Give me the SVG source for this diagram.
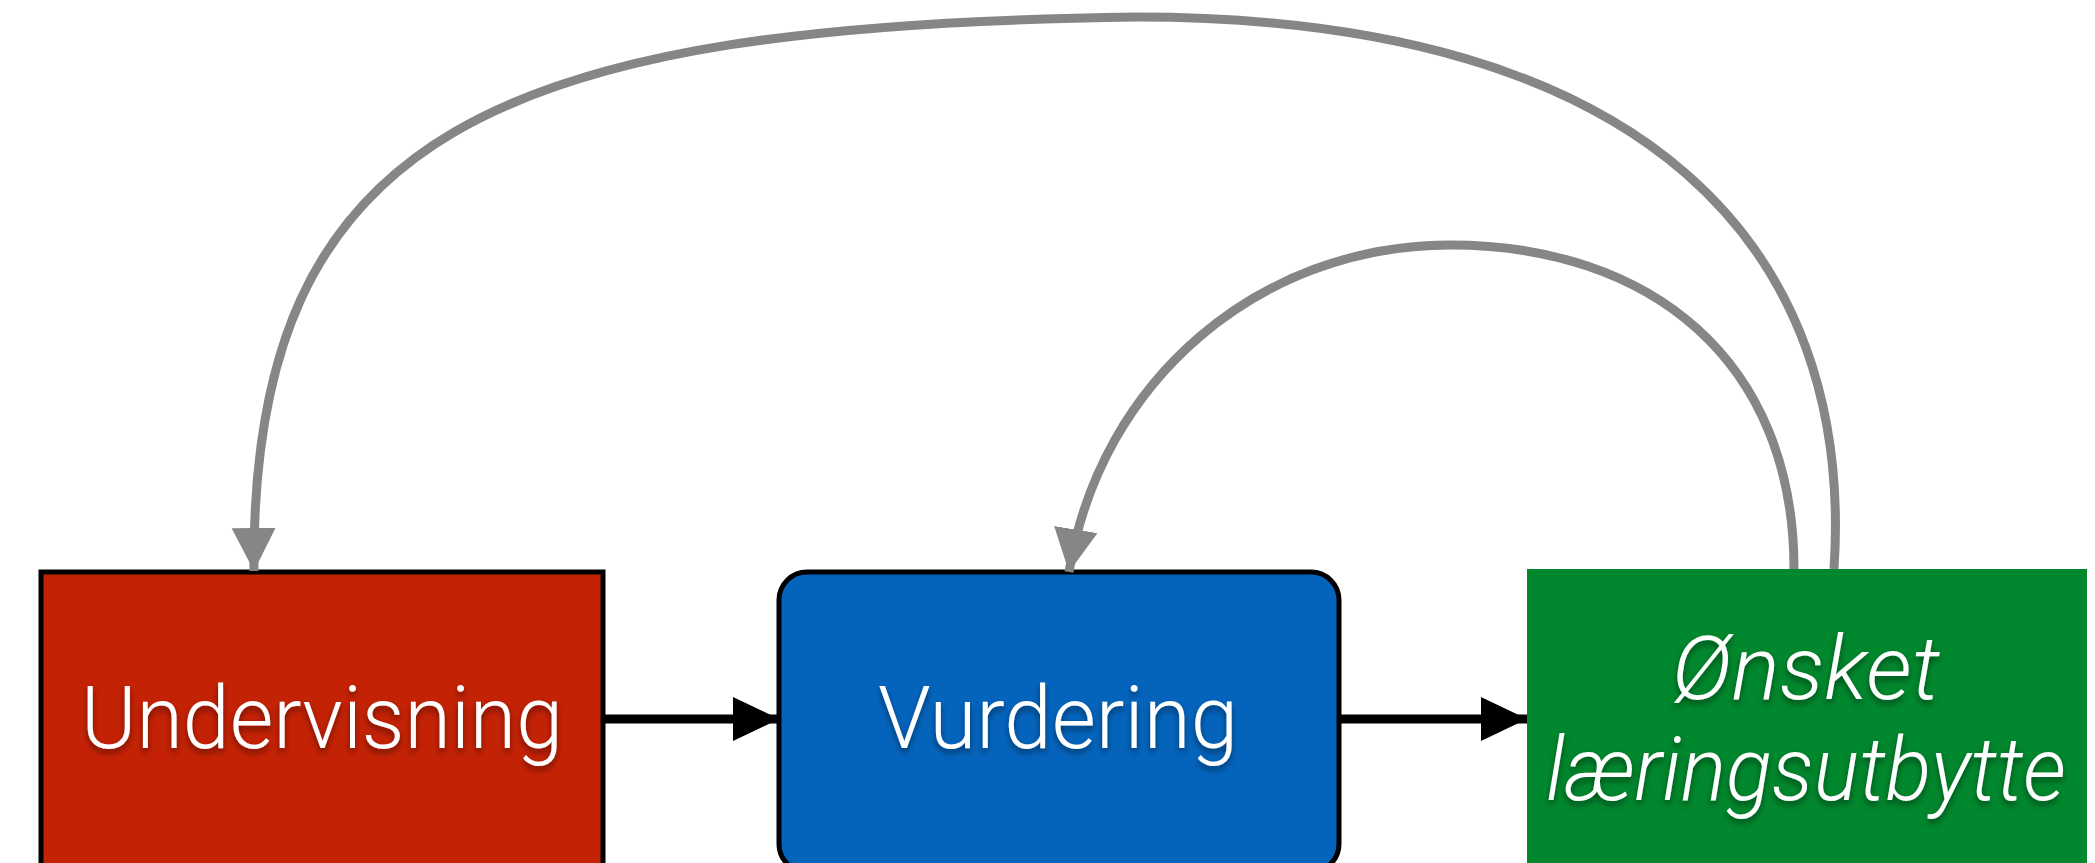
<svg xmlns="http://www.w3.org/2000/svg" width="2095" height="863" viewBox="0 0 2095 863">
<style>
.lbl{font-family:Roboto,"Liberation Sans",sans-serif;font-weight:300;font-size:88px;fill:#fff;text-anchor:middle}
.it{font-style:italic}
.gray{fill:none;stroke:#868686;stroke-width:9}
.blk{fill:none;stroke:#000;stroke-width:9}
</style>
<defs>
<filter id="sh" x="-10%" y="-20%" width="120%" height="150%">
<feDropShadow dx="0" dy="4" stdDeviation="3" flood-color="#000" flood-opacity="0.45"/>
</filter>
<marker id="ag" markerUnits="userSpaceOnUse" markerWidth="46" markerHeight="46" refX="43" refY="22" orient="auto" viewBox="0 0 46 46">
<path d="M0 0 L43 22 L0 44 Z" fill="#868686"/>
</marker>
<marker id="ab" markerUnits="userSpaceOnUse" markerWidth="48" markerHeight="48" refX="46" refY="22" orient="auto" viewBox="0 0 48 48">
<path d="M0 0 L46 22 L0 44 Z" fill="#000"/>
</marker>
</defs>
<g id="node-undervisning">
<rect x="41" y="572" width="562" height="300" fill="#c42205" stroke="#000" stroke-width="5"/>
<text class="lbl" x="322" y="748" textLength="482" lengthAdjust="spacingAndGlyphs" filter="url(#sh)">Undervisning</text>
</g>
<g id="node-vurdering">
<rect x="779" y="572" width="560" height="300" rx="28" fill="#0464bc" stroke="#000" stroke-width="5"/>
<text class="lbl" x="1058" y="748" textLength="360" lengthAdjust="spacingAndGlyphs" filter="url(#sh)">Vurdering</text>
</g>
<g id="node-onsket">
<rect x="1527" y="569" width="560" height="300" fill="#01872d"/>
<text class="lbl it" x="1806" y="699" textLength="268" lengthAdjust="spacingAndGlyphs" filter="url(#sh)">Ønsket</text>
<text class="lbl it" x="1806" y="800" textLength="520" lengthAdjust="spacingAndGlyphs" filter="url(#sh)">læringsutbytte</text>
</g>
<g id="connectors">
<path class="blk" d="M603 719 L779 719" marker-end="url(#ab)"/>
<path class="blk" d="M1339 719 L1527 719" marker-end="url(#ab)"/>
<path class="gray" d="M1834 569 C1855 250 1650 17 1136 17 C500 25 250 130 254 571" marker-end="url(#ag)"/>
<path class="gray" d="M1794 569 C1794 360 1650 245 1450 245 C1260 245 1100 380 1069 572" marker-end="url(#ag)"/>
</g>
</svg>
